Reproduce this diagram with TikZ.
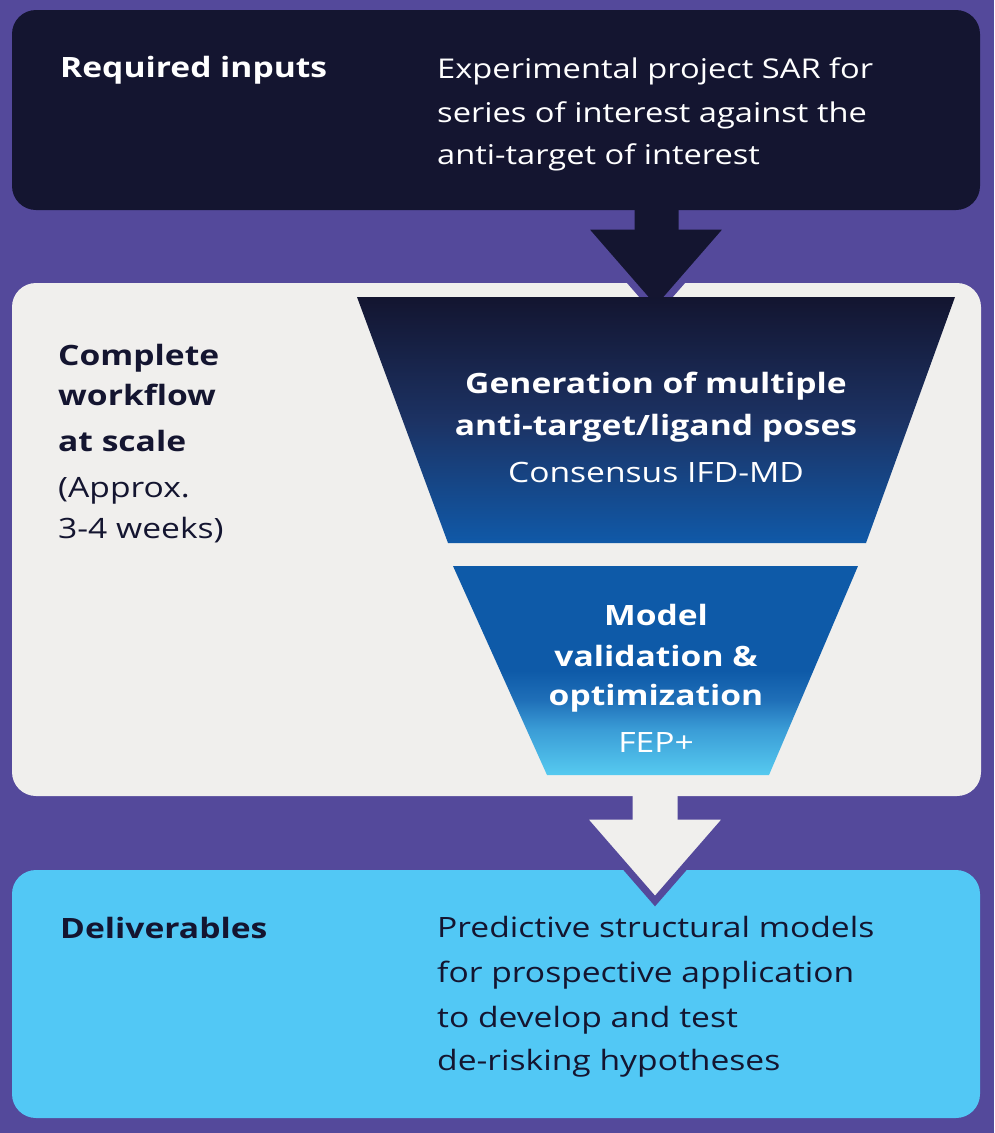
\documentclass[tikz,border=0pt]{standalone}
\usepackage{fontspec}
\setmainfont{Open Sans}[FakeStretch=1.2]
\definecolor{bgpurple}{HTML}{54499B}
\definecolor{navy}{HTML}{141530}
\definecolor{lightgray}{HTML}{F0EFED}
\definecolor{skyblue}{HTML}{52C8F5}
\definecolor{fAtop}{HTML}{131530}
\definecolor{fAmid}{HTML}{1C3263}
\definecolor{fAbot}{HTML}{1059A8}
\definecolor{fBtop}{HTML}{0E5AA8}
\definecolor{fBhigh}{HTML}{1F6FB8}
\definecolor{fBmid}{HTML}{3A9CD6}
\definecolor{fBbot}{HTML}{56CAF0}
\pgfdeclareverticalshading{funnelA}{100bp}{color(0bp)=(fAbot); color(25bp)=(fAbot); color(50bp)=(fAmid); color(75bp)=(fAtop); color(100bp)=(fAtop)}
\pgfdeclareverticalshading{funnelB}{100bp}{color(0bp)=(fBbot); color(25bp)=(fBbot); color(36bp)=(fBmid); color(43bp)=(fBhigh); color(50bp)=(fBtop); color(75bp)=(fBtop); color(100bp)=(fBtop)}
\begin{document}
\begin{tikzpicture}[x=1pt,y=-1pt,
  panel/.style={rounded corners=24pt},
  blockarrow/.style={draw=bgpurple,line width=7pt,line join=miter,miter limit=20},
  txt/.style={anchor=base west,inner sep=0pt,font=\fontsize{28}{34}\selectfont},
  toptxt/.style={txt,font=\fontsize{27.2}{34}\selectfont},
  head/.style={txt,font=\fontsize{28}{34}\selectfont\bfseries},
  ctxt/.style={anchor=base,inner sep=0pt,text=white,font=\fontsize{28}{34}\selectfont},
  chead/.style={ctxt,font=\fontsize{28}{34}\selectfont\bfseries}]
\useasboundingbox (0,0) rectangle (994,1133);
\fill[bgpurple] (0,0) rectangle (994,1133);
% deliverables box
\fill[skyblue,panel] (12,870) rectangle (980,1118);
% arrow 2
\filldraw[blockarrow,fill=lightgray] (629,780) -- (681,780) -- (681,816) -- (729,816) -- (655,901) -- (581,816) -- (629,816) -- cycle;
% workflow box
\fill[lightgray,panel] (12,283) rectangle (981,796);
% arrow 1
\filldraw[blockarrow,fill=navy] (631,190) -- (682,190) -- (682,226) -- (730,226) -- (656,311) -- (582,226) -- (631,226) -- cycle;
% top box
\fill[navy,panel] (12,10) rectangle (980,210);
% funnels
\shade[shading=funnelA] (357,297) -- (955,297) -- (866,543) -- (448,543) -- cycle;
\shade[shading=funnelB] (453,566) -- (858,566) -- (769,775) -- (547,775) -- cycle;
% texts
\node[head,text=white] (req) at (60,77) {Required inputs};
\node[toptxt,text=white] (in1) at (437,78) {Experimental project SAR for};
\node[toptxt,text=white] (in2) at (437,122) {series of interest against the};
\node[toptxt,text=white] (in3) at (437,164) {anti-target of interest};
\node[head,text=navy] (cw1) at (58,365) {Complete};
\node[head,text=navy] (cw2) at (58,405) {workflow};
\node[head,text=navy] (cw3) at (58,451) {at scale};
\node[txt,text=navy] (cw4) at (58,497) {(Approx.};
\node[txt,text=navy] (cw5) at (58,538) {3-4 weeks)};
\node[chead] (ga1) at (656,393) {Generation of multiple};
\node[chead] (ga2) at (656,435) {anti-target/ligand poses};
\node[ctxt] (ga3) at (656,482) {Consensus IFD-MD};
\node[chead] (mv1) at (656,625) {Model};
\node[chead] (mv2) at (656,666) {validation \&};
\node[chead] (mv3) at (656,705) {optimization};
\node[ctxt] (mv4) at (656,752) {FEP+};
\node[head,text=navy] (del) at (60,938) {Deliverables};
\node[txt,text=navy] (dl1) at (437,937) {Predictive structural models};
\node[txt,text=navy] (dl2) at (437,982) {for prospective application};
\node[txt,text=navy] (dl3) at (437,1027) {to develop and test};
\node[txt,text=navy] (dl4) at (437,1070) {de-risking hypotheses};
\end{tikzpicture}
\end{document}
